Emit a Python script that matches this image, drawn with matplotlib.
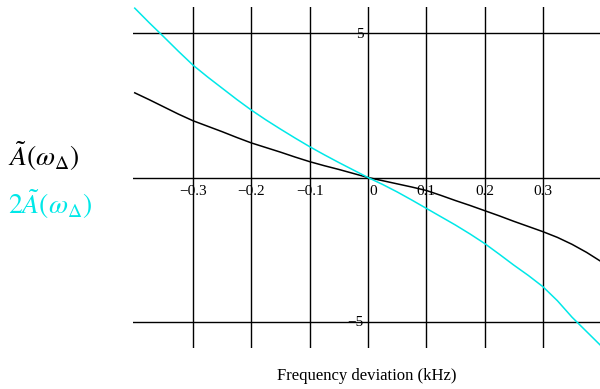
import numpy as np
import matplotlib.pyplot as plt

plt.rcParams['mathtext.fontset'] = 'stix'
plt.rcParams['font.family'] = ['Liberation Serif', 'DejaVu Serif']

# frequency deviation (kHz) and the two response curves
freq = np.array([-0.400, -0.375, -0.350, -0.325, -0.300, -0.275, -0.250, -0.225,
                 -0.200, -0.175, -0.150, -0.125, -0.100, -0.075, -0.050, -0.025,
                 0.000, 0.025, 0.050, 0.075, 0.100, 0.125, 0.150, 0.175,
                 0.200, 0.225, 0.250, 0.275, 0.300, 0.325, 0.350, 0.375, 0.400])
amp = np.array([2.94, 2.70, 2.45, 2.20, 1.97, 1.78, 1.59, 1.39,
                1.20, 1.04, 0.88, 0.71, 0.55, 0.41, 0.28, 0.14,
                0.00, -0.11, -0.22, -0.33, -0.45, -0.62, -0.80, -0.97,
                -1.15, -1.33, -1.52, -1.70, -1.88, -2.08, -2.32, -2.60, -2.92])
amp2 = np.array([5.88, 5.37, 4.88, 4.38, 3.90, 3.49, 3.10, 2.71,
                 2.34, 2.00, 1.68, 1.37, 1.07, 0.79, 0.52, 0.26,
                 0.00, -0.24, -0.50, -0.78, -1.07, -1.36, -1.65, -1.96,
                 -2.29, -2.66, -3.04, -3.40, -3.79, -4.28, -4.85, -5.35, -5.85])

xticks = [-0.3, -0.2, -0.1, 0.0, 0.1, 0.2, 0.3]
xtick_labels = ['\u22120.3', '\u22120.2', '\u22120.1', '0', '0.1', '0.2', '0.3']
yticks = [-5, 0, 5]
ytick_labels = ['\u22125', '', '5']

fig = plt.figure(figsize=(6.0, 3.89), dpi=100)
ax = fig.add_axes([133 / 600, 41 / 389, 467 / 600, 341 / 389])
ax.set_xlim(-0.403, 0.398)
ax.set_ylim(-5.92, 5.92)
for s in ax.spines.values():
    s.set_visible(False)
ax.set_xticks([])
ax.set_yticks([])

# Mathcad-style grid crossing through the origin
for x in xticks:
    ax.axvline(x, color='black', lw=1.0, zorder=1)
for y in yticks:
    ax.axhline(y, color='black', lw=1.0, zorder=1)

ax.plot(freq, amp, color='black', lw=1.1, zorder=3)
ax.plot(freq, amp2, color='#00e8e8', lw=1.1, zorder=3)

for x, lab in zip(xticks, xtick_labels):
    if x == 0:
        ax.text(x + 0.003, -0.25, lab, ha='left', va='top', fontsize=11)
    else:
        ax.text(x, -0.25, lab, ha='center', va='top', fontsize=11)
for y, lab in zip(yticks, ytick_labels):
    if lab:
        ax.text(-0.008, y - 0.02, lab, ha='right', va='center', fontsize=11)

fig.text(8 / 600, 1 - 156 / 389, r'$\tilde{A}(\omega_{\Delta})$',
         fontsize=20, color='black', ha='left', va='center')
fig.text(8 / 600, 1 - 204 / 389, r'$2\tilde{A}(\omega_{\Delta})$',
         fontsize=20, color='#00e8e8', ha='left', va='center')
fig.text(367 / 600, 1 - 376 / 389, 'Frequency deviation (kHz)',
         fontsize=12, ha='center', va='center')

fig.savefig('out.png', dpi=100)
